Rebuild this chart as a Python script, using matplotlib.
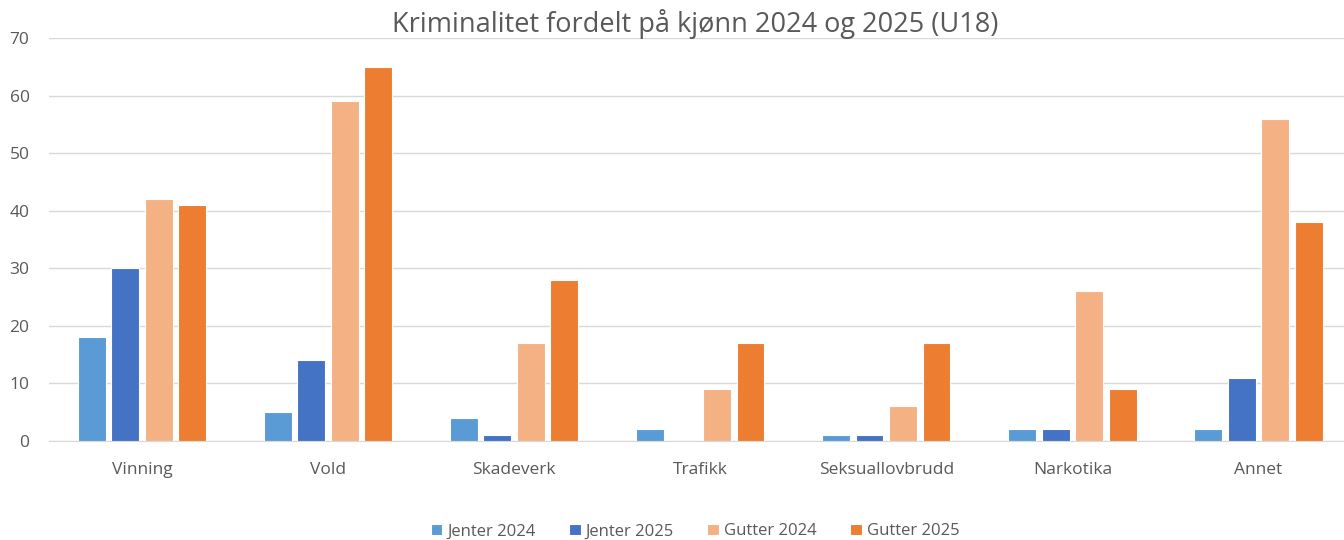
import matplotlib.pyplot as plt
import numpy as np

plt.rcParams['font.family'] = ['Open Sans', 'DejaVu Sans']

categories = ["Vinning", "Vold", "Skadeverk", "Trafikk", "Seksuallovbrudd", "Narkotika", "Annet"]
series_names = ["Jenter 2024", "Jenter 2025", "Gutter 2024", "Gutter 2025"]
jenter_2024 = [18, 5, 4, 2, 1, 2, 2]
jenter_2025 = [30, 14, 1, 0, 1, 2, 11]
gutter_2024 = [42, 59, 17, 9, 6, 26, 56]
gutter_2025 = [41, 65, 28, 17, 17, 9, 38]
colors = ["#5B9BD5", "#4472C4", "#F4B183", "#ED7D31"]

fig = plt.figure(figsize=(13.44, 5.4), dpi=100)
ax = fig.add_axes([49 / 1344, 1 - 441 / 540, 1 - 49 / 1344, (441 - 38) / 540])

x = np.arange(len(categories))
offsets = [-0.27, -0.09, 0.09, 0.27]
width = 0.15
for vals, name, col, off in zip([jenter_2024, jenter_2025, gutter_2024, gutter_2025],
                                series_names, colors, offsets):
    ax.bar(x + off, vals, width, color=col, edgecolor="white", linewidth=0.8, label=name, zorder=3)

ax.set_ylim(0, 70)
ax.set_xlim(-0.5, 6.46)
ax.set_yticks(range(0, 71, 10))
ax.yaxis.grid(True, color="#D9D9D9", linewidth=1, zorder=0)
ax.set_xticks(x)
ax.set_xticklabels(categories)
for s in ["top", "right", "left"]:
    ax.spines[s].set_visible(False)
ax.spines["bottom"].set_color("#D9D9D9")
ax.tick_params(axis="both", length=0, labelsize=12.5, colors="#595959")
ax.tick_params(axis="x", pad=15)
ax.tick_params(axis="y", pad=14)

fig.text(0.517, 0.955, "Kriminalitet fordelt på kjønn 2024 og 2025 (U18)",
         ha="center", va="center", fontsize=19.5, color="#595959")

fig.legend(loc="center", bbox_to_anchor=(0.517, 0.016), ncol=4, frameon=False,
           fontsize=12, labelcolor="#595959", handlelength=0.7, handleheight=0.7,
           handletextpad=0.3, columnspacing=2.0)

fig.savefig("out.png", dpi=100)
